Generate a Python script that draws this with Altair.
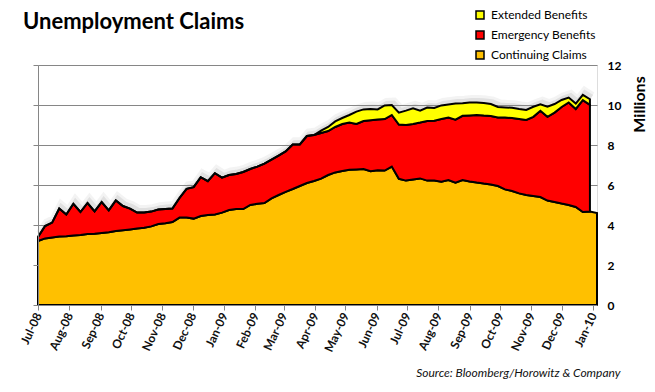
import altair as alt
import pandas as pd

# Weekly observations (week-ending Saturdays), millions of people
dates = pd.date_range("2008-07-05", periods=80, freq="7D").strftime("%Y-%m-%d").tolist()

continuing = [3.20, 3.33, 3.38, 3.42, 3.44, 3.47, 3.50, 3.55, 3.56, 3.60,
              3.64, 3.70, 3.74, 3.78, 3.82, 3.86, 3.93, 4.05, 4.09, 4.15,
              4.37, 4.37, 4.32, 4.45, 4.50, 4.53, 4.62, 4.75, 4.80, 4.80,
              5.00, 5.06, 5.10, 5.33, 5.50, 5.66, 5.80, 5.95, 6.10, 6.20,
              6.32, 6.50, 6.63, 6.70, 6.76, 6.78, 6.80, 6.69, 6.74, 6.72,
              6.92, 6.31, 6.22, 6.28, 6.33, 6.22, 6.22, 6.16, 6.25, 6.12,
              6.25, 6.18, 6.12, 6.07, 6.03, 5.95, 5.78, 5.70, 5.58, 5.50,
              5.45, 5.40, 5.22, 5.15, 5.07, 5.00, 4.90, 4.65, 4.67, 4.60]

emergency = [0.20, 0.62, 0.74, 1.40, 1.08, 1.59, 1.15, 1.55, 1.12, 1.55,
             1.09, 1.53, 1.21, 1.04, 0.80, 0.77, 0.74, 0.72, 0.71, 0.67,
             0.98, 1.44, 1.57, 1.94, 1.69, 2.06, 1.75, 1.75, 1.75, 1.85,
             1.80, 1.86, 1.97, 1.94, 1.97, 2.02, 2.22, 2.08, 2.35, 2.30,
             2.28, 2.20, 2.27, 2.35, 2.36, 2.27, 2.40, 2.55, 2.53, 2.58,
             2.58, 2.71, 2.78, 2.77, 2.79, 2.98, 2.99, 3.14, 3.12, 3.15,
             3.21, 3.30, 3.38, 3.40, 3.42, 3.43, 3.59, 3.65, 3.72, 3.75,
             3.96, 4.31, 4.19, 4.47, 4.83, 5.13, 4.90, 5.59, 5.34, None]

extended = [0.00, 0.00, 0.00, 0.00, 0.00, 0.00, 0.00, 0.00, 0.00, 0.00,
            0.00, 0.00, 0.00, 0.00, 0.00, 0.00, 0.00, 0.00, 0.00, 0.00,
            0.00, 0.00, 0.00, 0.00, 0.00, 0.00, 0.00, 0.00, 0.00, 0.00,
            0.00, 0.00, 0.00, 0.00, 0.00, 0.00, 0.00, 0.00, 0.00, 0.00,
            0.12, 0.20, 0.28, 0.30, 0.38, 0.62, 0.58, 0.56, 0.51, 0.68,
            0.50, 0.60, 0.72, 0.78, 0.60, 0.67, 0.64, 0.68, 0.66, 0.80,
            0.63, 0.64, 0.62, 0.63, 0.60, 0.52, 0.51, 0.51, 0.50, 0.50,
            0.50, 0.33, 0.50, 0.43, 0.35, 0.24, 0.27, 0.27, 0.28, None]

series_names = ["Extended Benefits", "Emergency Benefits", "Continuing Claims"]
series_colors = ["#FFFF00", "#FF0000", "#FFC000"]

y_ticks = [0, 2, 4, 6, 8, 10, 12]
month_ticks = [(2008, m) for m in range(7, 13)] + [(2009, m) for m in range(1, 13)] + [(2010, 1)]

df = pd.DataFrame({"date": dates, "continuing": continuing,
                   "emergency": emergency, "extended": extended})

FONT = "Lato"
GRID = "#868686"

x_enc = alt.X(
    "date:T",
    scale=alt.Scale(type="utc", nice=False,
                    domain=[alt.DateTime(year=2008, month=7, date=5, utc=True),
                            alt.DateTime(year=2010, month=1, date=9, utc=True)]),
    axis=alt.Axis(
        values=[alt.DateTime(year=y, month=m, date=5, utc=True) for y, m in month_ticks],
        format="%b-%y", labelAngle=295, labelAlign="right", labelBaseline="middle",
        labelFont=FONT, labelFontWeight="bold", labelFontSize=12, labelColor="#111111",
        labelPadding=3, tickColor=GRID, tickSize=5, domainColor=GRID, grid=False,
        labelOverlap=False, zindex=1,
        title="Source: Bloomberg/Horowitz & Company", titleFont=FONT,
        titleFontSize=12, titleFontStyle="italic", titleFontWeight="normal",
        titleColor="#111111", titleAnchor="end", titleAlign="right",
        titleBaseline="middle", titleX=582, titleY=67,
    ),
)

y_scale = alt.Scale(domain=[0, 12], nice=False)

right_axis = alt.Axis(
    orient="right", values=y_ticks, grid=True, gridColor=GRID, gridWidth=1,
    ticks=False, domain=False, labelFont=FONT, labelFontWeight="bold",
    labelFontSize=12, labelColor="black", labelPadding=10,
    title="Millions", titleFont=FONT, titleFontSize=16, titleFontWeight="bold",
    titleColor="black", titleAngle=270, titleX=42, titleY=39,
    titleAlign="center", titleBaseline="middle",
)

left_axis = alt.Axis(
    orient="left", values=y_ticks, grid=False, labels=False, ticks=True,
    tickSize=5, tickColor=GRID, domainColor=GRID, title="", zindex=1,
)

color_scale = alt.Scale(domain=series_names, range=series_colors)
legend = alt.Legend(
    orient="none", legendX=436, legendY=-56, title=None, symbolType="square",
    symbolSize=64, symbolStrokeColor="black", symbolStrokeWidth=1.5,
    labelFont=FONT, labelFontSize=12, labelColor="black", rowPadding=6,
    labelOffset=5,
)
color_enc = alt.Color("series:N", scale=color_scale, legend=legend)

base = alt.Chart(df).transform_calculate(
    red_top="datum.continuing + datum.emergency",
    total="datum.continuing + datum.emergency + datum.extended",
)
valid = base.transform_filter("isValid(datum.emergency)")

shadow1 = valid.mark_line(color="#888888", strokeWidth=9, opacity=0.10,
                          xOffset=2, yOffset=-3).encode(
    x=x_enc, y=alt.Y("total:Q", scale=y_scale, axis=left_axis))
shadow2 = valid.mark_line(color="#888888", strokeWidth=5, opacity=0.18,
                          xOffset=2, yOffset=-2).encode(
    x=x_enc, y=alt.Y("total:Q", scale=y_scale, axis=None))

orange = base.transform_calculate(series="'Continuing Claims'").mark_area(
    stroke="black", strokeWidth=2, strokeJoin="miter").encode(
    x=x_enc,
    y=alt.Y("continuing:Q", scale=y_scale, axis=right_axis),
    color=color_enc,
)
red = valid.transform_calculate(series="'Emergency Benefits'").mark_area(
    stroke="black", strokeWidth=2, strokeJoin="miter").encode(
    x=x_enc,
    y=alt.Y("red_top:Q", scale=y_scale, axis=None),
    y2="continuing:Q",
    color=color_enc,
)
yellow = valid.transform_calculate(series="'Extended Benefits'").mark_area(
    stroke="black", strokeWidth=2, strokeJoin="miter").encode(
    x=x_enc,
    y=alt.Y("total:Q", scale=y_scale, axis=None),
    y2="red_top:Q",
    color=color_enc,
)

chart = alt.layer(shadow1, shadow2, orange, red, yellow).resolve_axis(
    y="independent"
).properties(
    width=559, height=240,
    padding={"left": 30, "top": 57, "right": 50, "bottom": 77},
    autosize=alt.AutoSizeParams(type="none"),
    title=alt.TitleParams("Unemployment Claims", anchor="start", frame="group",
                          font=FONT, fontSize=22, fontWeight="bold",
                          color="black", dx=-15, dy=25, offset=0),
).configure_view(stroke=None).configure(background="white")

chart.save("out.html", embed_options={"renderer": "svg", "actions": False})
